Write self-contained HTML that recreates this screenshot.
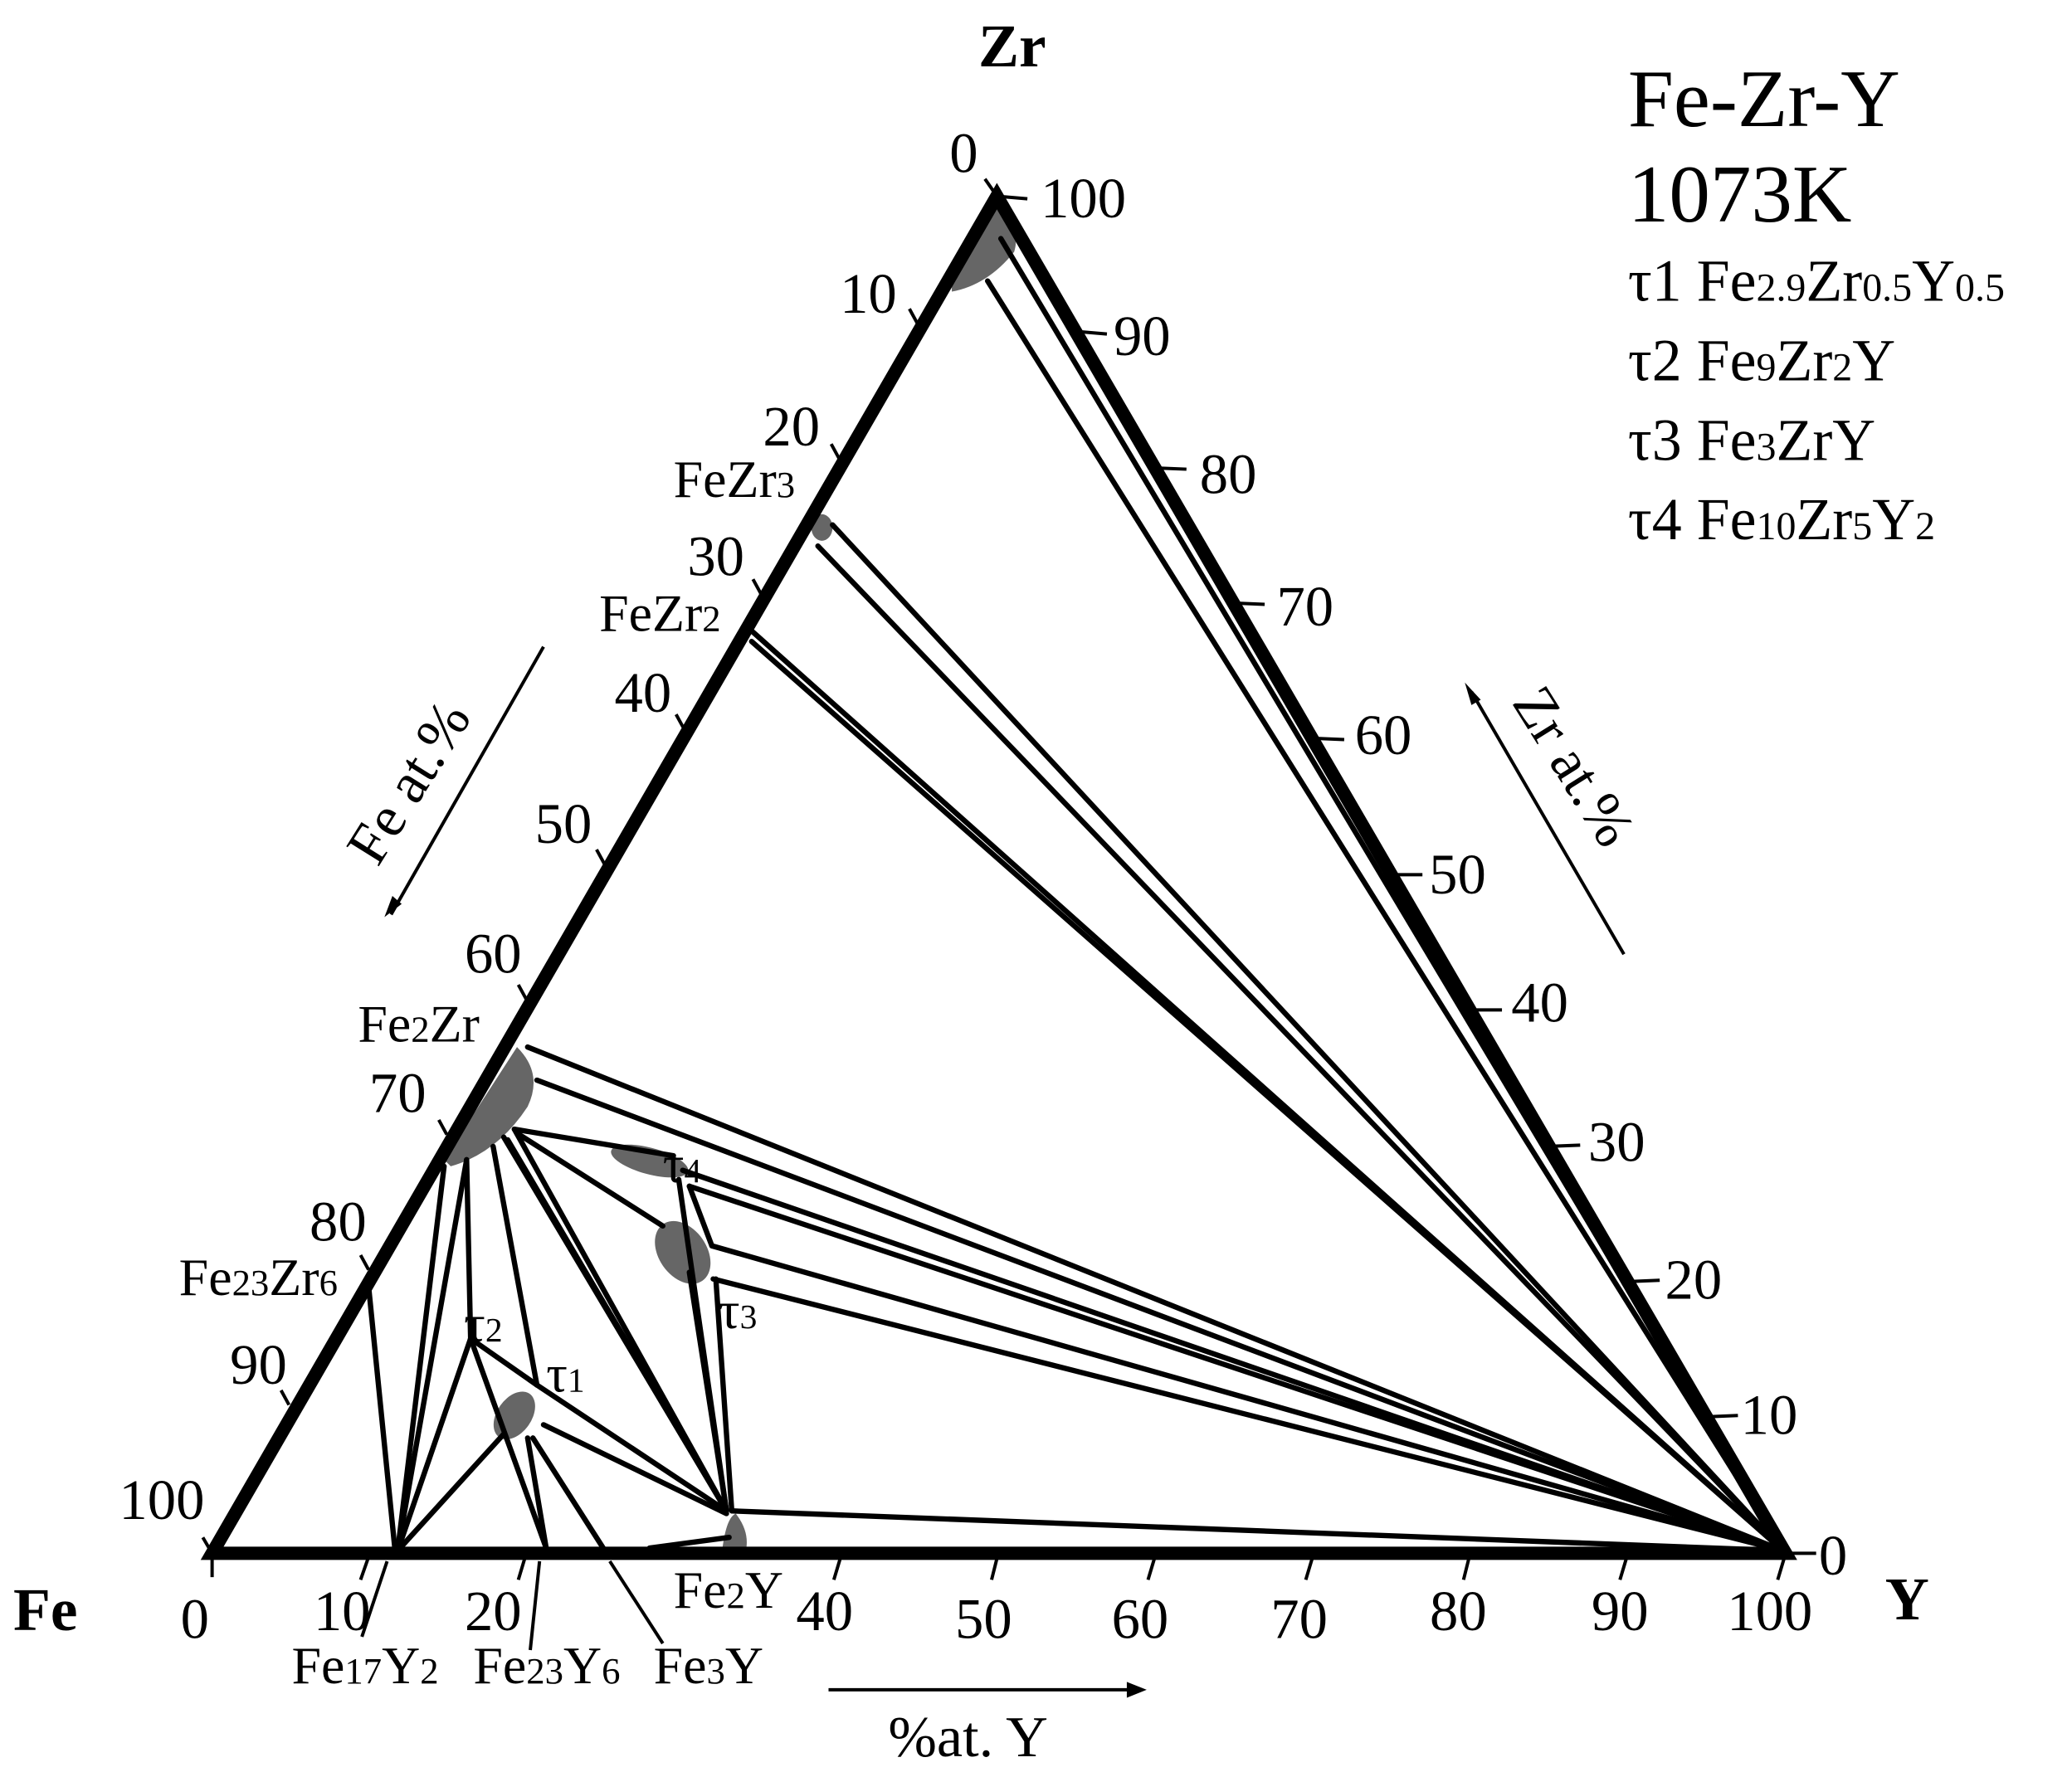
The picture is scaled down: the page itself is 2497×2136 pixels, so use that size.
<!DOCTYPE html>
<html><head><meta charset="utf-8"><style>
html,body{margin:0;padding:0;background:#fff}
svg{display:block}
text{font-family:"Liberation Serif",serif;fill:#000}
</style></head><body>
<svg width="2497" height="2136" viewBox="0 0 1563 1337" xmlns="http://www.w3.org/2000/svg">
<g fill="#666" stroke="none">
<path d="M718,208 Q740,165 756,155 Q770,175 765,190 Q745,215 718,220 Z"/>
<ellipse cx="620" cy="398" rx="8" ry="10"/>
<path d="M335,875 L390,790 Q410,810 398,835 Q375,870 340,880 Z"/>
<ellipse cx="490" cy="876" rx="30" ry="10" transform="rotate(15 490 876)"/>
<ellipse cx="515" cy="945" rx="18" ry="26" transform="rotate(-35 515 945)"/>
<ellipse cx="388" cy="1068" rx="13" ry="20" transform="rotate(35 388 1068)"/>
<path d="M545,1168 Q548,1145 555,1142 Q565,1155 563,1168 Z"/>
</g>
<g stroke="#000" stroke-width="4" fill="none" stroke-linecap="round">
<line x1="745" y1="212" x2="1345" y2="1170"/>
<line x1="755" y1="180" x2="1345" y2="1168"/>
<line x1="628" y1="396" x2="1345" y2="1170"/>
<line x1="617" y1="412" x2="1345" y2="1170"/>
<line x1="567" y1="476" x2="1345" y2="1170"/>
<line x1="567" y1="484" x2="1345" y2="1170"/>
<line x1="398" y1="790" x2="1345" y2="1170"/>
<line x1="405" y1="815" x2="1345" y2="1170"/>
<line x1="515" y1="883" x2="1345" y2="1170"/>
<line x1="520" y1="895" x2="1345" y2="1170"/>
<line x1="537" y1="940" x2="1345" y2="1170"/>
<line x1="538" y1="965" x2="1345" y2="1170"/>
<line x1="552" y1="1140" x2="1345" y2="1170"/>
<line x1="490" y1="1168" x2="550" y2="1160"/>
<line x1="388" y1="852" x2="508" y2="872"/>
<line x1="388" y1="852" x2="548" y2="1140"/>
<line x1="390" y1="855" x2="500" y2="925"/>
<line x1="380" y1="858" x2="548" y2="1140"/>
<line x1="383" y1="860" x2="545" y2="1135"/>
<line x1="372" y1="865" x2="405" y2="1045"/>
<line x1="352" y1="875" x2="355" y2="1010"/>
<line x1="352" y1="875" x2="300" y2="1170"/>
<line x1="335" y1="880" x2="300" y2="1170"/>
<line x1="278" y1="970" x2="298" y2="1170"/>
<line x1="355" y1="1010" x2="300" y2="1170"/>
<line x1="355" y1="1010" x2="405" y2="1045"/>
<line x1="380" y1="1082" x2="300" y2="1170"/>
<line x1="355" y1="1010" x2="412" y2="1168"/>
<line x1="398" y1="1085" x2="412" y2="1168"/>
<line x1="402" y1="1085" x2="455" y2="1168"/>
<line x1="410" y1="1075" x2="548" y2="1142"/>
<line x1="405" y1="1045" x2="548" y2="1140"/>
<line x1="512" y1="890" x2="548" y2="1140"/>
<line x1="520" y1="960" x2="548" y2="1140"/>
<line x1="540" y1="965" x2="552" y2="1140"/>
<line x1="520" y1="895" x2="537" y2="940"/>
</g>
<g stroke="#000" stroke-width="10" fill="none" stroke-linejoin="miter">
<polygon points="160,1172 1347,1172 752,148"/>
</g>
<g stroke="#000" stroke-width="2.5">
<line x1="743" y1="135" x2="752" y2="148"/><line x1="686" y1="233" x2="692" y2="244"/>
<line x1="627" y1="335" x2="633" y2="346"/><line x1="568" y1="437" x2="574" y2="448"/>
<line x1="510" y1="539" x2="516" y2="550"/><line x1="450" y1="641" x2="456" y2="652"/>
<line x1="391" y1="743" x2="397" y2="754"/><line x1="331" y1="845" x2="337" y2="856"/>
<line x1="272" y1="947" x2="278" y2="958"/><line x1="212" y1="1049" x2="218" y2="1060"/>
<line x1="153" y1="1160" x2="160" y2="1172"/>
<line x1="160" y1="1172" x2="160" y2="1190"/><line x1="279" y1="1172" x2="272" y2="1192"/>
<line x1="397" y1="1172" x2="391" y2="1192"/><line x1="635" y1="1172" x2="629" y2="1192"/>
<line x1="753" y1="1172" x2="748" y2="1192"/><line x1="872" y1="1172" x2="866" y2="1192"/>
<line x1="991" y1="1172" x2="985" y2="1192"/><line x1="1109" y1="1172" x2="1104" y2="1192"/>
<line x1="1228" y1="1172" x2="1222" y2="1192"/><line x1="1347" y1="1172" x2="1341" y2="1192"/>
<line x1="752" y1="148" x2="775" y2="150"/><line x1="811" y1="250" x2="835" y2="252"/>
<line x1="871" y1="353" x2="895" y2="354"/><line x1="930" y1="455" x2="954" y2="456"/>
<line x1="990" y1="557" x2="1014" y2="558"/><line x1="1049" y1="660" x2="1073" y2="660"/>
<line x1="1109" y1="762" x2="1133" y2="762"/><line x1="1168" y1="865" x2="1192" y2="864"/>
<line x1="1228" y1="967" x2="1252" y2="966"/><line x1="1287" y1="1069" x2="1311" y2="1068"/>
<line x1="1347" y1="1172" x2="1370" y2="1172"/>
<line x1="273" y1="1235" x2="292" y2="1178"/><line x1="400" y1="1245" x2="407" y2="1178"/>
<line x1="500" y1="1240" x2="460" y2="1178"/>
<line x1="410" y1="488" x2="295" y2="690"/><line x1="1225" y1="720" x2="1110" y2="522"/>
<line x1="625" y1="1275" x2="855" y2="1275"/>
</g>
<g fill="#000"><polygon points="290,692 296,676 303,682"/><polygon points="1105,515 1117,528 1110,532"/><polygon points="865,1275 850,1269 850,1281"/></g>
<g font-size="43">
<text x="727" y="130" text-anchor="middle">0</text><text x="655" y="236" text-anchor="middle">10</text>
<text x="597" y="336" text-anchor="middle">20</text><text x="540" y="434" text-anchor="middle">30</text>
<text x="485" y="537" text-anchor="middle">40</text><text x="425" y="636" text-anchor="middle">50</text>
<text x="372" y="734" text-anchor="middle">60</text><text x="300" y="839" text-anchor="middle">70</text>
<text x="255" y="936" text-anchor="middle">80</text><text x="195" y="1044" text-anchor="middle">90</text>
<text x="122" y="1146" text-anchor="middle">100</text>
<text x="147" y="1236" text-anchor="middle">0</text><text x="258" y="1230" text-anchor="middle">10</text>
<text x="372" y="1230" text-anchor="middle">20</text><text x="622" y="1230" text-anchor="middle">40</text>
<text x="742" y="1236" text-anchor="middle">50</text><text x="860" y="1236" text-anchor="middle">60</text>
<text x="980" y="1236" text-anchor="middle">70</text><text x="1100" y="1230" text-anchor="middle">80</text>
<text x="1222" y="1230" text-anchor="middle">90</text><text x="1335" y="1230" text-anchor="middle">100</text>
<text x="785" y="164">100</text><text x="840" y="268">90</text><text x="905" y="372">80</text>
<text x="963" y="472">70</text><text x="1022" y="569">60</text><text x="1078" y="674">50</text>
<text x="1140" y="771">40</text><text x="1198" y="876">30</text><text x="1256" y="980">20</text>
<text x="1313" y="1082">10</text><text x="1372" y="1188">0</text>
</g>
<g font-size="46" font-weight="bold">
<text x="738" y="50">Zr</text><text x="10" y="1230">Fe</text><text x="1422" y="1222">Y</text>
</g>
<g font-size="40">
<text x="508" y="375">FeZr<tspan font-size="28">3</tspan></text>
<text x="452" y="476">FeZr<tspan font-size="28">2</tspan></text>
<text x="270" y="786">Fe<tspan font-size="28">2</tspan>Zr</text>
<text x="135" y="977">Fe<tspan font-size="28">23</tspan>Zr<tspan font-size="28">6</tspan></text>
<text x="508" y="1213">Fe<tspan font-size="28">2</tspan>Y</text>
<text x="220" y="1270">Fe<tspan font-size="28">17</tspan>Y<tspan font-size="28">2</tspan></text>
<text x="357" y="1270">Fe<tspan font-size="28">23</tspan>Y<tspan font-size="28">6</tspan></text>
<text x="493" y="1270">Fe<tspan font-size="28">3</tspan>Y</text>
<text x="670" y="1325" font-size="44">%at. Y</text>
<text x="350" y="1012">τ<tspan font-size="26">2</tspan></text>
<text x="412" y="1050">τ<tspan font-size="26">1</tspan></text>
<text x="500" y="892">τ<tspan font-size="26">4</tspan></text>
<text x="542" y="1002">τ<tspan font-size="26">3</tspan></text>
<text transform="translate(285,655) rotate(-58)" font-size="44">Fe at.%</text>
<text transform="translate(1140,530) rotate(58)" font-size="44">Zr at.%</text>
</g>
<g font-size="62"><text x="1228" y="95">Fe-Zr-Y</text><text x="1228" y="167">1073K</text></g>
<g font-size="45">
<text x="1228" y="227">τ1 Fe<tspan font-size="30">2.9</tspan>Zr<tspan font-size="30">0.5</tspan>Y<tspan font-size="30">0.5</tspan></text>
<text x="1228" y="287">τ2 Fe<tspan font-size="30">9</tspan>Zr<tspan font-size="30">2</tspan>Y</text>
<text x="1228" y="347">τ3 Fe<tspan font-size="30">3</tspan>ZrY</text>
<text x="1228" y="407">τ4 Fe<tspan font-size="30">10</tspan>Zr<tspan font-size="30">5</tspan>Y<tspan font-size="30">2</tspan></text>
</g>
</svg>
</body></html>
